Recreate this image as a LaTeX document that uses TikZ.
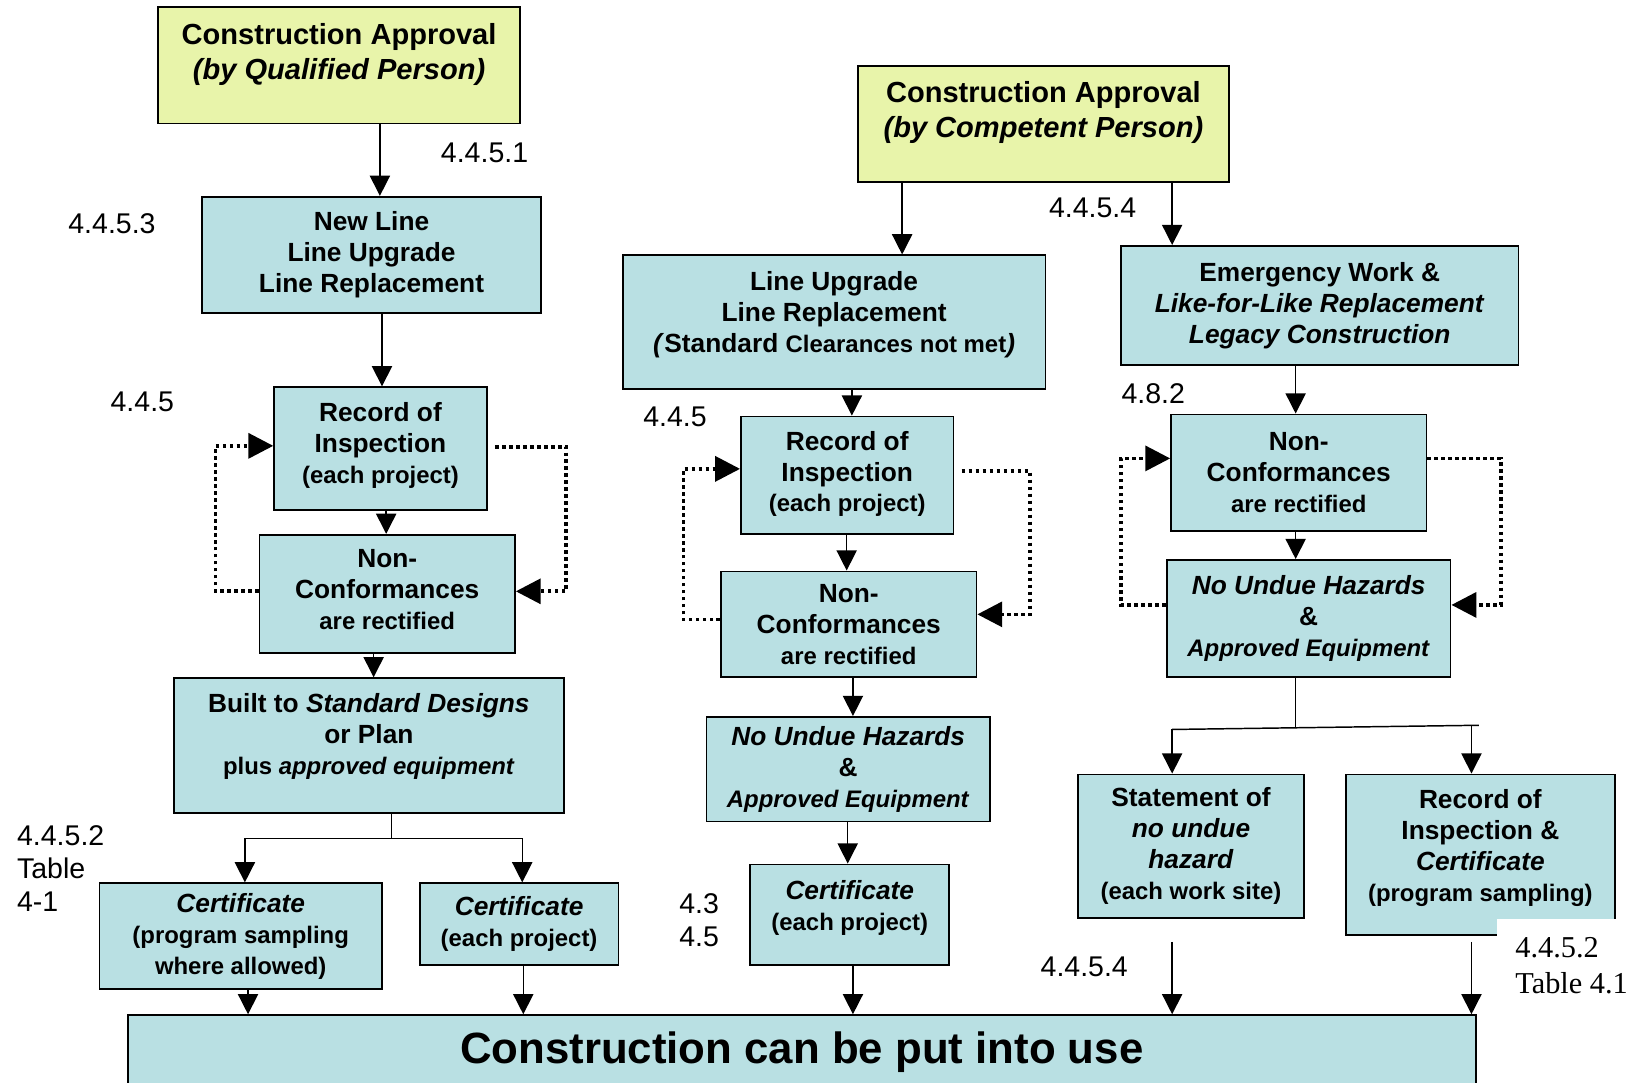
\documentclass[tikz,border=0pt]{standalone}
\usepackage{fontspec}
\setmainfont{Liberation Sans}
\newfontfamily\tblfont{Liberation Serif}
\usetikzlibrary{arrows.meta}
\definecolor{approval}{RGB}{232,244,170}
\definecolor{stage}{RGB}{185,224,227}
\newcommand{\px}{0.2mm}
\newcommand{\boxfont}{\fontsize{14.3}{16.8}\selectfont\bfseries}
\newcommand{\smalltxt}{\fontsize{13}{16.8}\selectfont}
\newcommand{\lift}[1]{\rule[-#1]{0pt}{#1}}

\begin{document}
\begin{tikzpicture}[x=\px, y=-\px,
  box/.style={draw, line width=1pt, fill=stage, align=center, font=\boxfont, inner sep=0pt},
  approve/.style={box, fill=approval, font=\fontsize{15.8}{19.3}\selectfont\bfseries},
  arr/.style={-{Triangle[length=11pt,width=11pt]}, line width=0.8pt},
  back/.style={-{Triangle[length=13.5pt,width=13.5pt]}, line width=2pt, dash pattern=on 2pt off 1.8pt},
  ref/.style={font=\fontsize{15.5}{18}\selectfont, align=left, inner sep=0pt}]
\useasboundingbox (0,0) rectangle (1568,1034);
\clip (0,0) rectangle (1568,1034);
%
% left column
\node[approve, minimum width=346*\px, minimum height=111*\px] (caq) at (324,62.5)
  {Construction Approval\\\textit{(by Qualified Person)}\lift{15.4pt}};
\node[box, minimum width=324*\px, minimum height=111*\px] (newline) at (355,243.5)
  {New Line\\Line Upgrade\\Line Replacement};
\node[box, minimum width=203*\px, minimum height=117*\px] (ri1) at (363.5,428.5)
  {Record of\\Inspection\\{\smalltxt (each project)}\lift{5.7pt}};
\node[box, minimum width=244*\px, minimum height=113*\px] (nc1) at (370,567.5)
  {Non-\\Conformances\\{\smalltxt are rectified}\lift{4.6pt}};
\node[box, minimum width=373*\px, minimum height=129*\px] (built) at (352.5,712.5)
  {Built to \textit{Standard Designs}\\or Plan\\{\smalltxt plus \textit{approved equipment}}\lift{12.5pt}};
\node[box, minimum width=270*\px, minimum height=101*\px] (cert1) at (230,894.5)
  {\textit{Certificate}\\{\smalltxt (program sampling}\\{\smalltxt where allowed)}};
\node[box, minimum width=190*\px, minimum height=78*\px] (cert2) at (496,883)
  {\textit{Certificate}\\{\smalltxt (each project)}};
%
% middle column
\node[approve, minimum width=354*\px, minimum height=111*\px] (cac) at (997,118.5)
  {Construction Approval\\\textit{(by Competent Person)}\lift{15.9pt}};
\node[box, minimum width=404*\px, minimum height=128*\px] (lu) at (797,308)
  {Line Upgrade\\Line Replacement\\\textit{(}Standard {\smalltxt Clearances not met}\textit{)}\lift{11.4pt}};
\node[box, minimum width=203*\px, minimum height=112*\px] (ri2) at (809.5,454)
  {Record of\\Inspection\\{\smalltxt (each project)}\lift{4pt}};
\node[box, minimum width=244*\px, minimum height=101*\px] (nc2) at (811,596.5)
  {Non-\\Conformances\\{\smalltxt are rectified}};
\node[box, minimum width=271*\px, minimum height=100*\px] (nuh2) at (810.5,735)
  {\textit{No Undue Hazards}\\\&\\{\smalltxt\textit{Approved Equipment}}};
\node[box, minimum width=190*\px, minimum height=96*\px] (cert3) at (812,874)
  {\textit{Certificate}\\{\smalltxt (each project)}\lift{9.7pt}};
%
% right column
\node[box, minimum width=380*\px, minimum height=114*\px] (emerg) at (1261,292)
  {Emergency Work \&\\\textit{Like-for-Like Replacement}\\\textit{Legacy Construction}};
\node[box, minimum width=244*\px, minimum height=111*\px] (nc3) at (1241,451.5)
  {Non-\\Conformances\\{\smalltxt are rectified}};
\node[box, minimum width=271*\px, minimum height=112*\px] (nuh3) at (1250.5,591)
  {\textit{No Undue Hazards}\\\&\\{\smalltxt\textit{Approved Equipment}}};
\node[box, minimum width=216*\px, minimum height=137*\px] (stmt) at (1138,808.5)
  {Statement of\\\textit{no undue}\\\textit{hazard}\\{\smalltxt (each work site)}};
\node[box, minimum width=257*\px, minimum height=153*\px] (ric) at (1414.5,816.5)
  {Record of\\Inspection \&\\\textit{Certificate}\\{\smalltxt (program sampling)}\lift{10.2pt}};
%
\node[box, minimum width=1288*\px, minimum height=70*\px, font=\fontsize{23.8}{27}\selectfont\bfseries] (final) at (766,1005)
  {Construction can be put into use};
%
% clause numbers
\node[ref] (r4451) at (463,146) {4.4.5.1};
\node[ref] (r4453) at (107,214) {4.4.5.3};
\node[ref] (r445a) at (136,384) {4.4.5};
\node[ref, anchor=west] (r4452a) at (16,830) {4.4.5.2\\Table\\4-1};
\node[ref] (r445b) at (645,398) {4.4.5};
\node[ref] (r43) at (668,879) {4.3\\4.5};
\node[ref] (r4454a) at (1044,199) {4.4.5.4};
\node[ref] (r482) at (1102,376) {4.8.2};
\node[ref] (r4454b) at (1036,924) {4.4.5.4};
\node[fill=white, anchor=north west, align=left, inner sep=10pt, font=\tblfont\fontsize{16.5}{19.3}\selectfont] (r4452b) at (1430,878)
  {4.4.5.2\\Table 4.1};
%
% flow, left
\draw[arr] (caq.south -| 363,0) -- (newline.north -| 363,0);
\draw[arr] (newline.south -| 365,0) -- (ri1.north -| 365,0);
\draw[arr] (ri1.south -| 369,0) -- (nc1.north -| 369,0);
\draw[arr] (nc1.south -| 357,0) -- (built.north -| 357,0);
\draw[back] (nc1.west |- 0,565) -- (206,565) -- (206,426) -- (ri1.west |- 0,426);
\draw[back, shorten <=4pt] (ri1.east |- 0,427) -- (541,427) -- (541,565) -- (nc1.east |- 0,565);
\coordinate (fork1) at (374,801);
\draw[line width=0.8pt] (built.south -| fork1) -- (fork1);
\draw[line width=0.8pt] (234,801) -- (499,801);
\draw[arr] (234,801) -- (cert1.north -| 234,0);
\draw[arr] (499,801) -- (cert2.north -| 499,0);
\draw[arr] (cert1.south -| 237,0) -- (final.north -| 237,0);
\draw[arr] (cert2.south -| 500,0) -- (final.north -| 500,0);
%
% flow, middle
\draw[arr] (cac.south -| 862,0) -- (lu.north -| 862,0);
\draw[arr] (lu.south -| 814,0) -- (ri2.north -| 814,0);
\draw[arr] (ri2.south -| 809,0) -- (nc2.north -| 809,0);
\draw[arr] (nc2.south -| 815,0) -- (nuh2.north -| 815,0);
\draw[arr] (nuh2.south -| 810,0) -- (cert3.north -| 810,0);
\draw[arr] (cert3.south -| 815,0) -- (final.north -| 815,0);
\draw[back] (nc2.west |- 0,592) -- (653,592) -- (653,448) -- (ri2.west |- 0,448);
\draw[back, shorten <=4pt] (ri2.east |- 0,450) -- (984,450) -- (984,587) -- (nc2.east |- 0,587);
%
% flow, right
\draw[arr] (cac.south -| 1120,0) -- (emerg.north -| 1120,0);
\draw[arr] (emerg.south -| 1238,0) -- (nc3.north -| 1238,0);
\draw[arr] (nc3.south -| 1238,0) -- (nuh3.north -| 1238,0);
\draw[back] (nuh3.west |- 0,578) -- (1071,578) -- (1071,438) -- (nc3.west |- 0,438);
\draw[back] (nc3.east |- 0,438) -- (1434,438) -- (1434,578) -- (nuh3.east |- 0,578);
\coordinate (fork2) at (1238,695);
\coordinate (fork2l) at (1120,697);
\coordinate (fork2r) at (1406,694);
\draw[line width=0.8pt] (nuh3.south -| fork2) -- (fork2);
\draw[line width=0.8pt] (fork2l) -- (1413,693);
\draw[arr] (fork2l) -- (stmt.north -| fork2l);
\draw[arr] (fork2r) -- (ric.north -| fork2r);
\coordinate (free1) at (1120,900);
\coordinate (free2) at (1406,900);
\draw[arr] (free1) -- (final.north -| free1);
\draw[arr] (free2) -- (final.north -| free2);
\end{tikzpicture}
\end{document}
